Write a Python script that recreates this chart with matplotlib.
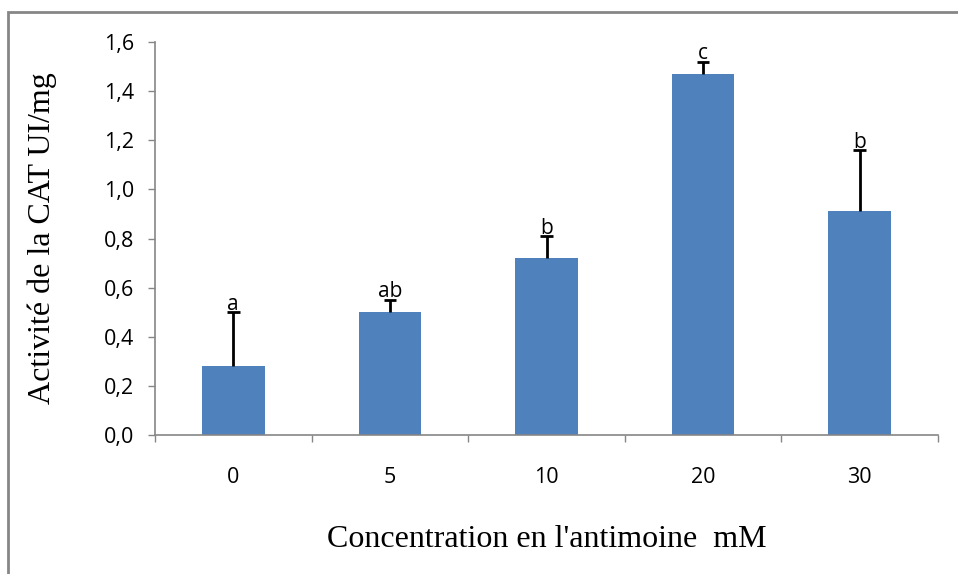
import matplotlib.pyplot as plt
from matplotlib.patches import Rectangle
from matplotlib.ticker import FixedLocator, NullFormatter

# Data
concentrations = ["0", "5", "10", "20", "30"]
activity = [0.28, 0.50, 0.72, 1.47, 0.91]
errors = [0.22, 0.05, 0.09, 0.05, 0.25]
letters = ["a", "ab", "b", "c", "b"]
y_ticks = [0.0, 0.2, 0.4, 0.6, 0.8, 1.0, 1.2, 1.4, 1.6]

W, H = 958, 574
fig = plt.figure(figsize=(W / 100, H / 100), dpi=100)

# outer chart frame (clipped at right and bottom like the reference)
fig.patches.append(Rectangle((8 / W, -0.1), 1.2, (H - 12) / H + 0.1,
                             transform=fig.transFigure, fill=False,
                             edgecolor="#868686", linewidth=2))

ax = fig.add_axes([155 / W, (H - 435) / H, (938 - 155) / W, (435 - 42) / H])

x = list(range(len(concentrations)))
tops = [v + e for v, e in zip(activity, errors)]
ax.bar(x, activity, width=0.4, color="#4F81BD", zorder=2)
# upper-only error bars, as in the original
ax.vlines(x, activity, tops, color="black", linewidth=2, zorder=3)
ax.hlines(tops, [xi - 0.04 for xi in x], [xi + 0.04 for xi in x],
          color="black", linewidth=2, zorder=3)

for xi, t, lab in zip(x, tops, letters):
    ax.text(xi, t - 0.01, lab, ha="center", va="bottom",
            fontsize=15, family="Open Sans", zorder=4)

ax.set_xlim(-0.5, len(concentrations) - 0.5)
ax.set_ylim(0, 1.6)
ax.set_yticks(y_ticks)
ax.set_yticklabels([f"{t:.1f}".replace(".", ",") for t in y_ticks],
                   family="Open Sans", fontsize=15.5)
ax.set_xticks(x)
ax.set_xticklabels(concentrations, family="Open Sans", fontsize=15.5)
ax.xaxis.set_minor_locator(FixedLocator([i - 0.5 for i in range(len(concentrations) + 1)]))
ax.xaxis.set_minor_formatter(NullFormatter())
ax.tick_params(axis="x", which="major", length=0, pad=23)
ax.tick_params(axis="x", which="minor", length=5, color="#868686", width=1)
ax.tick_params(axis="y", length=5, color="#868686", width=1, pad=10)

for side in ["top", "right"]:
    ax.spines[side].set_visible(False)
for side in ["left", "bottom"]:
    ax.spines[side].set_color("#868686")
    ax.spines[side].set_linewidth(1.2)

ax.set_ylabel("Activité de la CAT UI/mg", family="Liberation Serif", fontsize=23, labelpad=34)
ax.set_xlabel("Concentration en l'antimoine  mM", family="Liberation Serif", fontsize=23, labelpad=27)

fig.savefig("out.png", dpi=100)
